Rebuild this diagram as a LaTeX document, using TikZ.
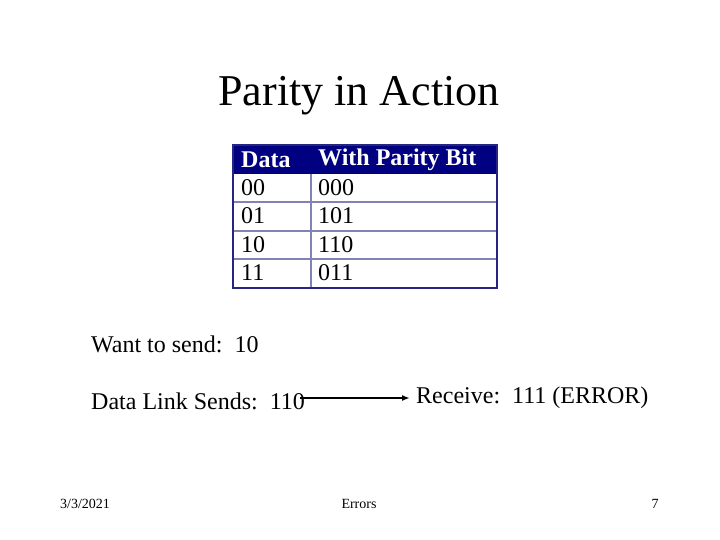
\documentclass[tikz,border=0pt]{standalone}
\usepackage{fontspec}
\setmainfont{Liberation Serif}
\usetikzlibrary{arrows.meta}
\definecolor{navy}{RGB}{0,0,128}
\definecolor{grid}{RGB}{130,130,180}
\begin{document}
\begin{tikzpicture}[x=1pt,y=-1pt,
  cell/.style={anchor=west,inner sep=0,font=\fontsize{24}{26}\selectfont},
  head/.style={anchor=west,inner sep=0,text=white,font=\bfseries\fontsize{24}{26}\selectfont},
  body/.style={anchor=west,inner sep=0,font=\fontsize{24}{26}\selectfont},
  foot/.style={inner sep=0,font=\fontsize{14}{16}\selectfont}]
\useasboundingbox (0,0) rectangle (720,540);
\node[inner sep=0,font=\fontsize{44}{48}\selectfont] (title) at (359,96) {Parity in Action};
\fill[navy] (233,145) rectangle (497,174);
\foreach \y in {202,231,259} \draw[grid,line width=1.2pt] (233,\y) -- (497,\y);
\draw[grid,line width=2pt] (311,174) -- (311,288);
\draw[navy!70!gray,line width=1.5pt] (233,145) rectangle (497,288);
\node[head] (h1) at (241,160) {Data};
\node[head] (h2) at (318,160) {With Parity Bit};
\foreach \a/\b/\y [count=\i] in {00/000/188,01/101/216,10/110/245,11/011/273}{
  \node[cell] (a\i) at (241,\y) {\a};
  \node[cell] (b\i) at (318,\y) {\b};}
\node[body] (want) at (91,344) {Want to send:\ \ 10};
\node[body] (dls) at (91,401) {Data Link Sends:\ \ 110};
\node[body] (rec) at (416,398) {Receive:\ \ 111 (ERROR)};
\coordinate (s) at (300,398);
\coordinate (e) at (410,398);
\draw[-{Latex[length=8pt,width=6pt]},line width=1.6pt] (s) -- (e);
\node[foot] (date) at (85,504) {3/3/2021};
\node[foot] (topic) at (359,504) {Errors};
\node[foot] (num) at (655,504) {7};
\end{tikzpicture}
\end{document}
